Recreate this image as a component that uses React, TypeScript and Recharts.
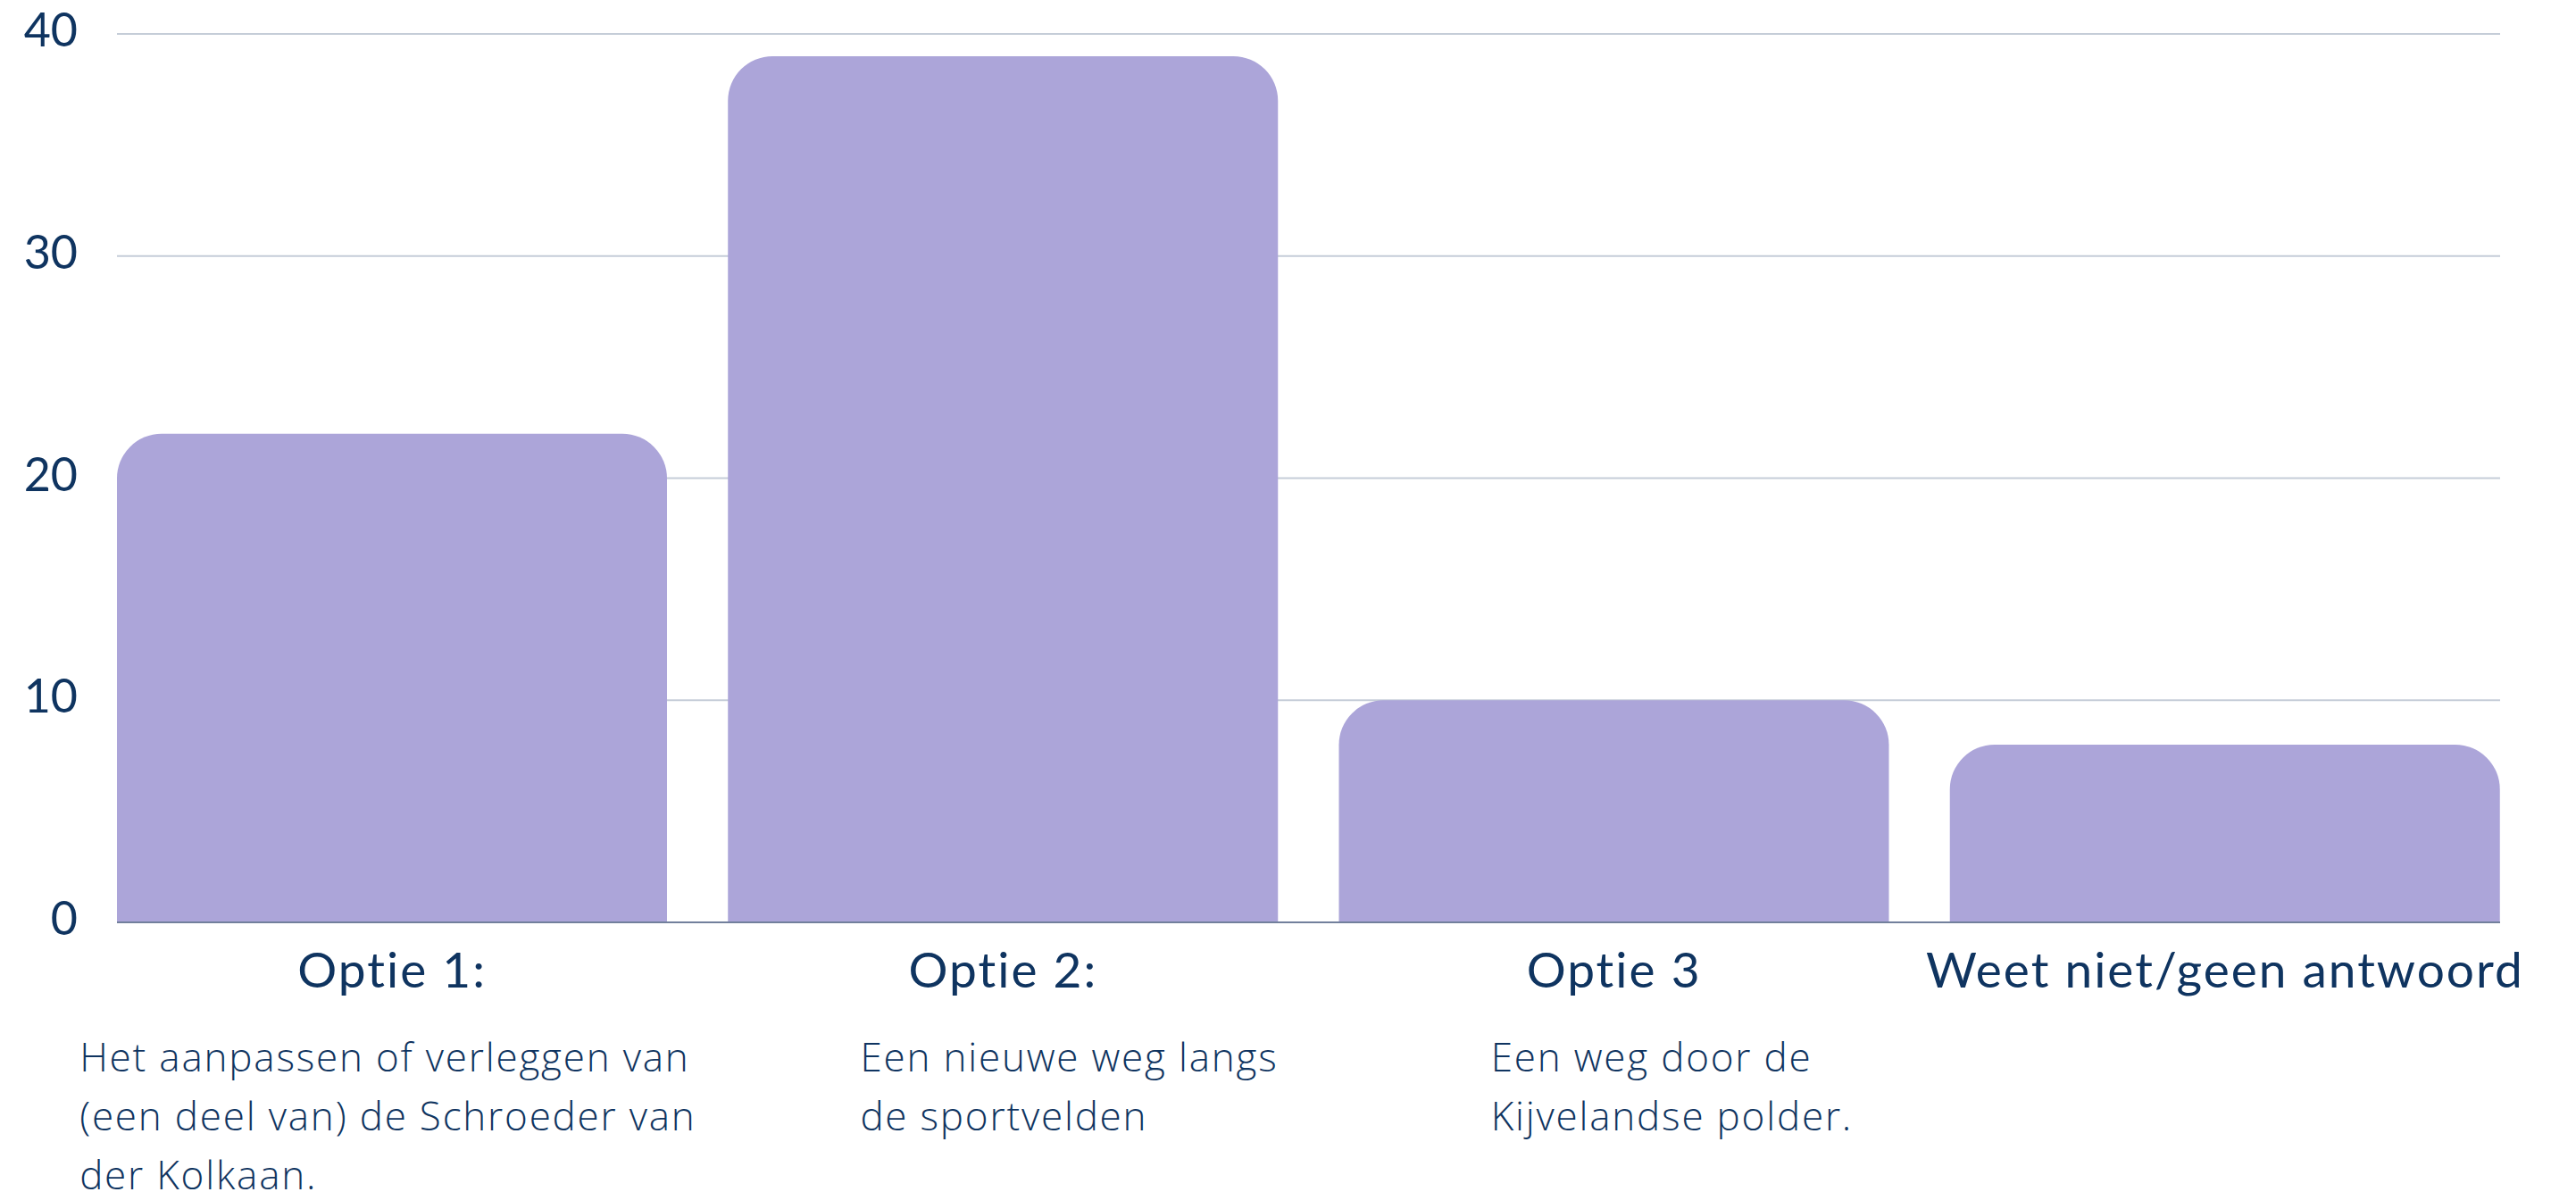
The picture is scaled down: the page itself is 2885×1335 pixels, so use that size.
import React from 'react'
import { BarChart, Bar, XAxis, YAxis, CartesianGrid } from 'recharts'

const CATEGORIES: string[] = ['Optie 1:', 'Optie 2:', 'Optie 3', 'Weet niet/geen antwoord']
const VALUES: number[] = [22, 39, 10, 8]
const Y_TICKS: number[] = [0, 10, 20, 30, 40]
const DESCRIPTIONS: string[][] = [
    ['Het aanpassen of verleggen van', '(een deel van) de Schroeder van', 'der Kolkaan.'],
    ['Een nieuwe weg langs', 'de sportvelden'],
    ['Een weg door de', 'Kijvelandse polder.'],
    [],
]

// where each description block starts, relative to the bar centre
const DESC_DX: number[] = [-350, -160, -138, 0]

const NAVY = '#0f3460'
const BAR_FILL = '#aca5d9'
const GRID = '#c5cdd8'
const AXIS = '#72809c'

const data = CATEGORIES.map((name, i) => ({ name, value: VALUES[i] }))

const YTick = ({ x, y, payload }: any) => (
    <text x={x} y={y} dy={14} textAnchor="end" fill={NAVY} fontSize={52} fontFamily="Lato">
        {payload.value}
    </text>
)

const XTick = ({ x, y, payload, index }: any) => {
    const lines = DESCRIPTIONS[index] || []
    return (
        <g>
            <text x={x} y={y + 73} textAnchor="middle" fill={NAVY} fontSize={55} fontFamily="Lato" letterSpacing={2}>
                {payload.value}
            </text>
            {lines.map((line, i) => (
                <text
                    key={i}
                    x={x + DESC_DX[index]}
                    y={y + 167 + i * 66}
                    textAnchor="start"
                    fill={NAVY}
                    fontSize={44}
                    fontWeight={300}
                    fontFamily="Open Sans"
                    letterSpacing={1.8}
                >
                    {line}
                </text>
            ))}
        </g>
    )
}

const App: React.FunctionComponent = () => {
    return (
        <div style={{ position: 'absolute', left: 0, top: 0, background: '#fff' }}>
            <BarChart
                width={2885}
                height={1335}
                data={data}
                margin={{ top: 38, right: 85, bottom: 0, left: 0 }}
                barCategoryGap={34}
            >
                <CartesianGrid horizontal vertical={false} stroke={GRID} strokeWidth={2} />
                <YAxis
                    width={131}
                    domain={[0, 40]}
                    ticks={Y_TICKS}
                    axisLine={false}
                    tickLine={false}
                    tickSize={0}
                    tickMargin={44}
                    tick={<YTick />}
                />
                <XAxis
                    dataKey="name"
                    height={302}
                    interval={0}
                    padding={{ left: -34, right: -34 }}
                    axisLine={{ stroke: AXIS, strokeWidth: 2 }}
                    tickLine={false}
                    tickSize={0}
                    tickMargin={0}
                    tick={<XTick />}
                />
                <Bar dataKey="value" fill={BAR_FILL} radius={[50, 50, 0, 0]} isAnimationActive={false} />
            </BarChart>
        </div>
    )
}

export default App
